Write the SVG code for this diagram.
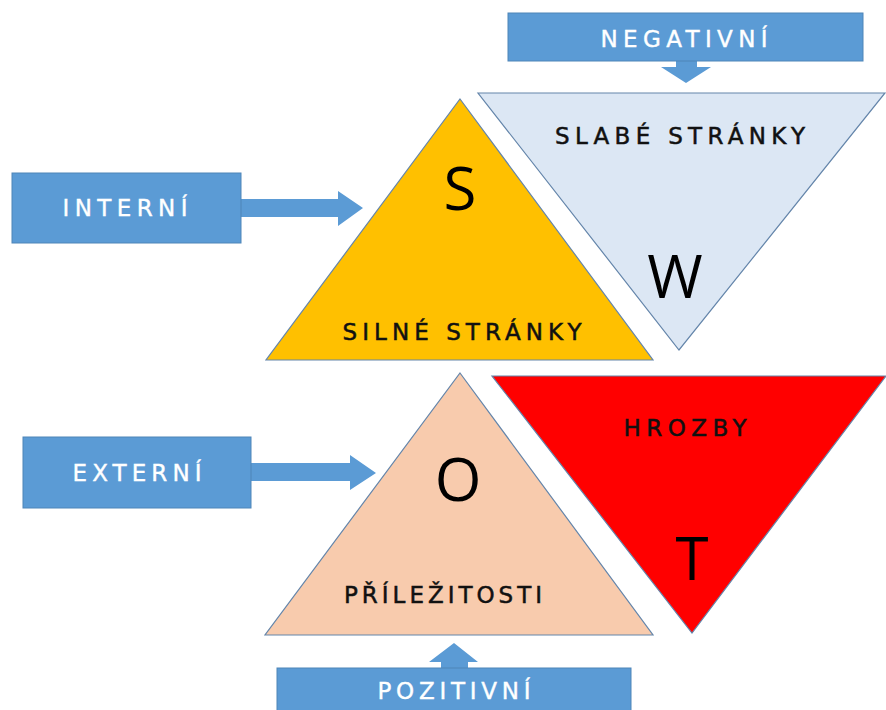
<svg xmlns="http://www.w3.org/2000/svg" width="886" height="710" viewBox="0 0 886 710">
<style>
.box{fill:#5b9bd5;stroke:#4f85b8;stroke-width:1}
.btxt{font-family:"DejaVu Sans","Open Sans",sans-serif;font-size:23px;fill:#ffffff;stroke:#ffffff;stroke-width:0.4;text-anchor:middle}
.tri{stroke:#6485aa;stroke-width:1.2}
.ttxt{font-family:"DejaVu Sans","Open Sans",sans-serif;font-size:23px;fill:#111111;stroke:#111111;stroke-width:0.5;text-anchor:middle}
.big{font-family:"Open Sans","Noto Sans",sans-serif;font-size:60px;fill:#000000;text-anchor:middle}
.arr{fill:#5b9bd5;stroke:none}
</style>
<rect width="886" height="710" fill="#ffffff"/>
<g id="connectors">
<path class="arr" d="M240,199 H338 V191 L363,208 L338,226 V217 H240 Z"/>
<path class="arr" d="M250,463 H350 V455 L376,473 L350,490 V481 H250 Z"/>
<path class="arr" d="M676,60 V67 H661 L686,83 L711,67 H697 V60 Z"/>
<path class="arr" d="M441,669 V662 H429 L454,643 L478,662 H468 V669 Z"/>
</g>
<g id="W">
<polygon class="tri" fill="#dce7f4" points="478,93 885,93 679,350"/>
<text class="ttxt" x="680" y="144" textLength="250" lengthAdjust="spacing">SLABÉ STRÁNKY</text>
<text class="big" x="675" y="298">W</text>
</g>
<g id="S">
<polygon class="tri" fill="#ffc000" points="460,99 653,360 266,360"/>
<text class="big" x="460" y="210">S</text>
<text class="ttxt" x="462" y="340" textLength="239" lengthAdjust="spacing">SILNÉ STRÁNKY</text>
</g>
<g id="T">
<polygon class="tri" fill="#ff0000" points="492,376 886,376 692,633"/>
<text class="ttxt" x="685" y="436" textLength="123" lengthAdjust="spacing">HROZBY</text>
<text class="big" x="692" y="580">T</text>
</g>
<g id="O">
<polygon class="tri" fill="#f8cbad" points="460,373 653,635 265,635"/>
<text class="big" x="458" y="501">O</text>
<text class="ttxt" x="443" y="603" textLength="198" lengthAdjust="spacing">PŘÍLEŽITOSTI</text>
</g>
<g id="interni">
<rect class="box" x="12" y="173" width="229" height="70"/>
<text class="btxt" x="125" y="216" textLength="125" lengthAdjust="spacing">INTERNÍ</text>
</g>
<g id="externi">
<rect class="box" x="23" y="437" width="228" height="71"/>
<text class="btxt" x="137" y="481" textLength="129" lengthAdjust="spacing">EXTERNÍ</text>
</g>
<g id="negativni">
<rect class="box" x="508" y="13" width="355" height="48"/>
<text class="btxt" x="684" y="47" textLength="167" lengthAdjust="spacing">NEGATIVNÍ</text>
</g>
<g id="pozitivni">
<rect class="box" x="277" y="668" width="354" height="50"/>
<text class="btxt" x="454" y="699" textLength="153" lengthAdjust="spacing">POZITIVNÍ</text>
</g>
</svg>
